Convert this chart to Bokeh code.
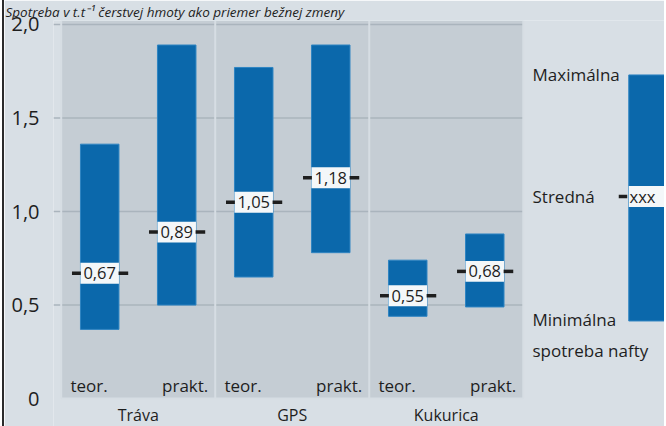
from bokeh.plotting import figure
from bokeh.models import Range1d, FixedTicker, ColumnDataSource, Title
from bokeh.core.properties import value
from bokeh.embed import file_html
from bokeh.resources import INLINE

# ---- data ----
groups = ["Tráva", "GPS", "Kukurica"]
kinds = ["teor.", "prakt."]
min_vals = [0.37, 0.50, 0.65, 0.78, 0.44, 0.49]
max_vals = [1.36, 1.89, 1.77, 1.89, 0.74, 0.88]
med_vals = [0.67, 0.89, 1.05, 1.18, 0.55, 0.68]
med_labels = ["0,67", "0,89", "1,05", "1,18", "0,55", "0,68"]
y_ticks = [0, 0.5, 1, 1.5, 2]
y_tick_labels = ["0", "0,5", "1,0", "1,5", "2,0"]
legend_texts = ["Maximálna", "Stredná", "Minimálna", "spotreba nafty"]
legend_min, legend_med, legend_max = 0.415, 1.08, 1.73
legend_med_label = "xxx"
title_text = "Spotreba v t.t\u207b\u00b9 čerstvej hmoty ako priemer bežnej zmeny"

# ---- style ----
FONT = "Open Sans"
BAR = "#0b68ab"
BG = "#d8dfe5"
PANEL = "#c5cdd4"
DIV = "#d6dde3"
TXT = "#1e1e1e"
BW = 0.5

n = len(min_vals)
xs = list(range(n))
teor_x = [x for x in xs if x % 2 == 0]
prakt_x = [x for x in xs if x % 2 == 1]

p = figure(width=662, height=426, x_range=Range1d(-0.6, 7.36),
           y_range=Range1d(-0.149, 2.021), output_backend="svg",
           toolbar_location=None, min_border_left=49, min_border_right=0,
           min_border_top=0, min_border_bottom=0)
p.styles = {"margin-left": "2px", "border-left": "2px solid #2b2b2b"}
p.background_fill_color = BG
p.border_fill_color = BG
p.outline_line_color = None
p.xaxis.visible = False
p.xgrid.visible = False
p.ygrid.visible = False

t = Title(text=title_text, text_font=FONT, text_font_style="italic",
          text_font_size="13.5px", text_color=TXT, align="left",
          offset=-48, standoff=0, text_line_height=1.0)
p.add_layout(t, "above")

ax = p.yaxis[0]
ax.ticker = FixedTicker(ticks=y_ticks)
ax.major_label_overrides = {k: v for k, v in zip(y_ticks, y_tick_labels)}
ax.axis_line_color = None
ax.major_tick_line_color = None
ax.minor_tick_line_color = None
ax.major_label_standoff = 8
ax.major_label_text_font = FONT
ax.major_label_text_font_size = "20px"
ax.major_label_text_color = TXT

# panel
p.quad(left=[-0.5], right=[n - 0.5], bottom=[0], top=[2.02],
       fill_color=PANEL, line_color=None)
# grid lines
gy = y_ticks[1:]
p.segment(x0=[-0.6] * len(gy), x1=[n - 0.5] * len(gy),
          y0=gy, y1=gy, line_color="#aab4bd", line_width=1.5)
# group dividers
div_x = [-0.5 + 2 * g for g in range(len(groups))] + [n - 0.5]
p.segment(x0=div_x, x1=div_x, y0=[0] * len(div_x), y1=[2.02] * len(div_x),
          line_color=DIV, line_width=2)
p.segment(x0=[-0.5], x1=[n - 0.5], y0=[0], y1=[0], line_color=DIV, line_width=2)

src = ColumnDataSource(dict(x=xs, lo=min_vals, hi=max_vals, med=med_vals,
                            lab=med_labels,
                            dl0=[x - 0.36 for x in xs], dl1=[x - 0.245 for x in xs],
                            dr0=[x + 0.245 for x in xs], dr1=[x + 0.37 for x in xs]))

p.vbar(x="x", bottom="lo", top="hi", width=BW, source=src,
       fill_color=BAR, line_color="#2f84c2", line_width=1)
# median label box
p.rect(x="x", y="med", width=BW, height=0.112, source=src,
       fill_color="#f4f7f9", line_color=None)
p.segment(x0="dl0", x1="dl1", y0="med", y1="med", source=src,
          line_color=TXT, line_width=3.5)
p.segment(x0="dr0", x1="dr1", y0="med", y1="med", source=src,
          line_color=TXT, line_width=3.5)
p.text(x="x", y="med", text="lab", source=src, text_font=value(FONT),
       text_font_size="16.5px", text_color=TXT, text_align="center",
       text_baseline="middle")
# teor./prakt. labels
p.text(x=[x - 0.38 for x in teor_x], y=[0.07] * len(teor_x),
       text=[kinds[0]] * len(teor_x), text_font=value(FONT),
       text_font_size="17px", text_color=TXT, text_align="left",
       text_baseline="middle")
p.text(x=[x + 0.41 for x in prakt_x], y=[0.07] * len(prakt_x),
       text=[kinds[1]] * len(prakt_x), text_font=value(FONT),
       text_font_size="17px", text_color=TXT, text_align="right",
       text_baseline="middle")
# group labels
p.text(x=[2 * g + 0.5 for g in range(len(groups))], y=[-0.088] * len(groups),
       text=groups, text_font=value(FONT), text_font_size="16px",
       text_color=TXT, text_align="center", text_baseline="middle")

# explanatory legend
LX = 7.12
p.vbar(x=[LX], bottom=[legend_min], top=[legend_max], width=BW,
       fill_color=BAR, line_color="#2f84c2", line_width=1)
p.rect(x=[LX], y=[legend_med], width=BW, height=0.112,
       fill_color="#f4f7f9", line_color=None)
p.segment(x0=[LX - 0.38], x1=[LX - 0.27], y0=[legend_med], y1=[legend_med],
          line_color=TXT, line_width=3.5)
p.text(x=[LX - 0.24], y=[legend_med], text=[legend_med_label],
       text_font=value(FONT), text_font_size="16.5px", text_color=TXT,
       text_align="left", text_baseline="middle")
p.text(x=[5.62] * 4, y=[legend_max, legend_med, legend_min + 0.01, 0.255],
       text=legend_texts, text_font=value(FONT), text_font_size="17px",
       text_color=TXT, text_align="left", text_baseline="middle")

open("out.html", "w").write(file_html(p, INLINE))
